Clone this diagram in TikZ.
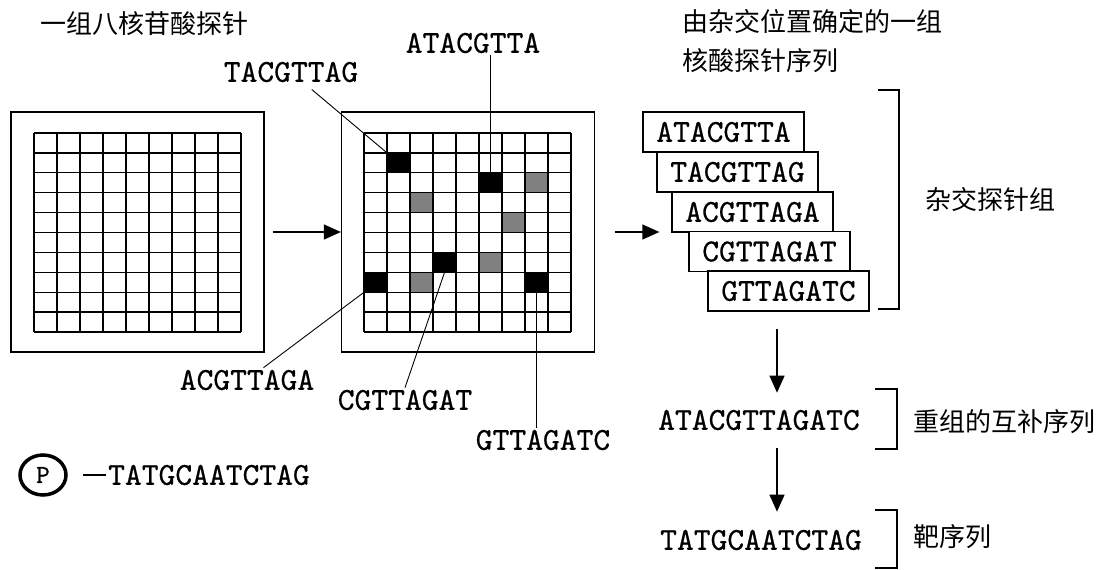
\documentclass[tikz,border=0pt]{standalone}
\usepackage{fontspec}
\setmainfont{Liberation Serif}
\newfontfamily\seqfont[FakeBold=0.6]{lmmono10-regular.otf}
\newfontfamily\cjkfont{Noto Sans CJK SC}
\usetikzlibrary{arrows.meta,shapes.geometric}

\begin{document}
\begin{tikzpicture}[x=1pt,y=-1pt,
  frame/.style={rectangle,draw,line width=1.3pt,minimum width=253pt,minimum height=240pt,inner sep=0pt},
  cell/.style={rectangle,fill=black,minimum width=23pt,minimum height=19.9pt,inner sep=0pt},
  grey cell/.style={cell,fill=black!50},
  seq/.style={font=\seqfont\fontsize{32}{34}\selectfont,inner sep=2pt},
  probe box/.style={seq,draw,fill=white,line width=1.3pt,minimum width=161pt,minimum height=40pt},
  cjk/.style={font=\cjkfont\fontsize{26}{39}\selectfont,inner sep=0pt},
  arrow/.style={line width=1.3pt,-{Triangle[length=17pt,width=15pt]}},
  leader/.style={line width=0.9pt}]

  \useasboundingbox (0,0) rectangle (1106,570);

  % the two chips
  \node[frame] (frameL) at (137.5,232){};
  \node[frame] (frameM) at (468,232){};

  % hybridised spots
  \node[cell] (spot1) at (398.5,162.85){};
  \node[cell] (spot2) at (490.5,182.75){};
  \node[cell] (spot3) at (375.5,282.25){};
  \node[cell] (spot4) at (444.5,262.35){};
  \node[cell] (spot5) at (536.5,282.25){};
  \node[grey cell] (g1) at (536.5,182.75){};
  \node[grey cell] (g2) at (421.5,202.65){};
  \node[grey cell] (g3) at (513.5,222.55){};
  \node[grey cell] (g4) at (490.5,262.35){};
  \node[grey cell] (g5) at (421.5,282.25){};

  \foreach \gx in {34,364} {
    \foreach \i in {0,...,9} \draw[line width=1.3pt] ({\gx+\i*23},133) -- ++(0,199);
    \foreach \j in {0,...,10} \draw[line width=1.3pt] (\gx,{133+\j*19.9}) -- ++(207,0);
  }

  \node[cjk,anchor=west] (title1) at (40,24){一组八核苷酸探针};
  \node[cjk,anchor=west,align=left] (title2) at (682,41){由杂交位置确定的一组\\核酸探针序列};

  % probe labels
  \node[seq] (tacg) at (291,72){TACGTTAG};
  \node[seq] (atac) at (473,43){ATACGTTA};
  \node[seq] (acgt) at (247,380){ACGTTAGA};
  \node[seq] (cgtt) at (405,400){CGTTAGAT};
  \node[seq] (gtta) at (543,440){GTTAGATC};

  \draw[leader,shorten <=8pt] (tacg) -- (spot1.north west);
  \draw[leader] (atac.south -| spot2.north) -- (spot2.north);
  \draw[leader] (acgt) -- (spot3.south west);
  \draw[leader] (cgtt.north) -- (spot4.south);
  \draw[leader] (gtta.north -| spot5.south) -- (spot5.south);

  % stacked probes
  \node[probe box] (box1) at (723.5,132){ATACGTTA};
  \node[probe box] (box2) at (737.5,172){TACGTTAG};
  \node[probe box] (box3) at (752.5,212){ACGTTAGA};
  \node[probe box] (box4) at (769.5,251.5){CGTTAGAT};
  \node[probe box] (box5) at (788.5,291){GTTAGATC};

  \node[seq] (recomb) at (759,420){ATACGTTAGATC};
  \node[seq] (target) at (761,540){TATGCAATCTAG};
  \coordinate (axis) at (777,0);

  \draw[arrow,shorten <=8pt] (frameL.east) -- (frameM.west);
  \draw[arrow,shorten <=20pt,shorten >=12pt] (frameM.east) -- (frameM.east -| box3.west);
  \draw[arrow,shorten <=17pt,shorten >=15pt] (box5.south -| axis) -- (recomb.north -| axis);
  \draw[arrow,shorten <=16pt,shorten >=16pt] (recomb.south -| axis) -- (target.north -| axis);

  % brackets
  \draw[line width=1.3pt] (878,90) -| (899,309) -- (878,309);
  \draw[line width=1.3pt] (875,389) -| (897,449) -- (875,449);
  \draw[line width=1.3pt] (875,510) -| (897,568) -- (875,568);
  \node[cjk,anchor=west] (setlbl) at (925,200){杂交探针组};
  \node[cjk,anchor=west] (recomblbl) at (913,422){重组的互补序列};
  \node[cjk,anchor=west] (targetlbl) at (913,537){靶序列};

  % labelled target
  \node[ellipse,draw,line width=3.5pt,minimum width=46pt,minimum height=40pt,inner sep=0pt,
    font=\seqfont\fontsize{26}{26}\selectfont] (pcircle) at (43,475){P};
  \node[seq,anchor=west] (pseq) at (106,475){TATGCAATCTAG};
  \draw[line width=1.3pt,shorten <=15pt] (pcircle) -- (pseq);
\end{tikzpicture}
\end{document}
